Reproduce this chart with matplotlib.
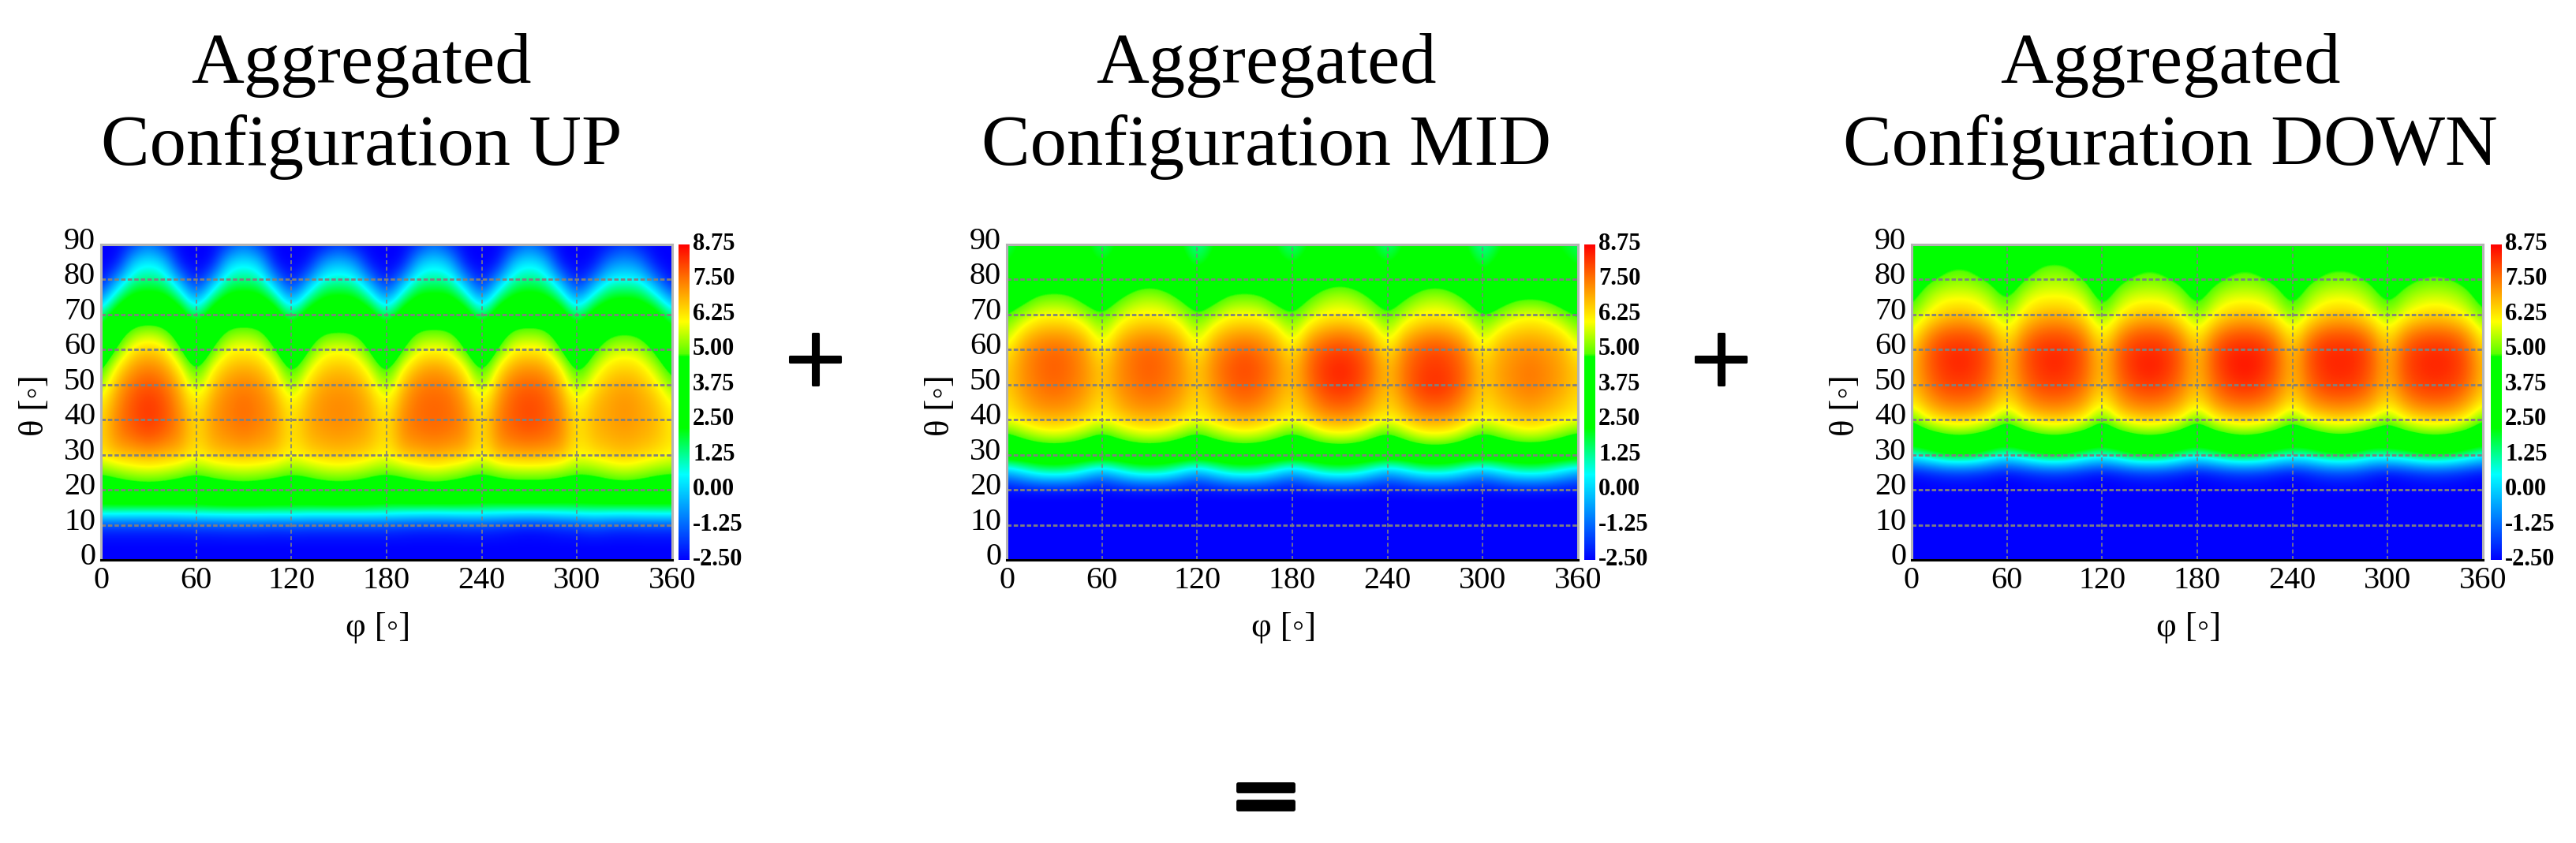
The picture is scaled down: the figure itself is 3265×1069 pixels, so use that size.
import numpy as np
import matplotlib
matplotlib.use("Agg")
import matplotlib.pyplot as plt
import matplotlib.patheffects as pe
from matplotlib.colors import LinearSegmentedColormap
from matplotlib.transforms import ScaledTranslation

W, H = 3265, 1069

titles = ["Configuration UP", "Configuration MID", "Configuration DOWN"]
x_ticks = [0, 60, 120, 180, 240, 300, 360]
y_ticks = [0, 10, 20, 30, 40, 50, 60, 70, 80, 90]
cbar_ticks = [8.75, 7.5, 6.25, 5.0, 3.75, 2.5, 1.25, 0.0, -1.25, -2.5]
cbar_labels = ["8.75", "7.50", "6.25", "5.00", "3.75", "2.50", "1.25", "0.00", "-1.25", "-2.50"]

# one column per phi = 0, 10, ... 360, rows are theta = 0, 5, ... 90
up_cols = [
    [-2.5,-2.5,-1.8,2.0,3.7,4.9,6.2,6.4,6.3,6.1,5.2,4.4,3.2,2.6,1.1,-1.0,-2.5,-2.5,-2.5],
    [-2.5,-2.5,-1.8,2.0,3.9,5.2,6.7,7.3,7.4,7.2,6.9,6.2,4.9,4.0,3.2,1.3,-0.6,-2.5,-2.5],
    [-2.5,-2.5,-1.8,1.9,4.1,5.5,6.8,7.6,7.9,7.9,7.6,7.1,6.3,5.1,3.9,2.6,1.2,0.0,-1.9],
    [-2.5,-2.5,-1.8,1.9,4.2,5.6,7.0,7.9,8.2,8.2,7.9,7.4,6.6,5.5,3.9,2.6,1.4,0.5,-1.0],
    [-2.5,-2.5,-1.8,1.9,4.1,5.5,6.8,7.6,7.9,7.9,7.6,7.1,6.3,5.1,3.9,2.6,1.2,0.0,-1.9],
    [-2.5,-2.5,-1.8,2.0,3.9,5.2,6.7,7.2,7.3,7.1,6.8,6.1,4.9,4.0,3.2,1.3,-0.6,-2.5,-2.5],
    [-2.5,-2.5,-1.7,2.0,3.7,4.9,6.1,6.3,6.2,6.0,5.1,4.3,3.2,2.6,1.1,-1.0,-2.5,-2.5,-2.5],
    [-2.5,-2.5,-1.7,2.1,3.9,5.2,6.6,7.0,7.1,7.0,6.6,6.0,4.8,3.9,3.2,1.3,-0.7,-2.5,-2.5],
    [-2.5,-2.5,-1.6,2.1,4.1,5.4,6.7,7.2,7.4,7.4,7.2,6.7,6.0,5.0,3.9,2.6,1.2,0.0,-1.9],
    [-2.5,-2.5,-1.6,2.1,4.2,5.5,6.8,7.4,7.6,7.6,7.4,6.9,6.1,5.2,3.9,2.6,1.4,0.4,-1.1],
    [-2.5,-2.5,-1.6,2.1,4.1,5.4,6.7,7.2,7.4,7.4,7.2,6.7,6.0,5.0,3.9,2.6,1.2,0.0,-1.9],
    [-2.5,-2.5,-1.7,2.1,3.9,5.2,6.6,7.0,7.1,7.0,6.6,6.0,4.8,3.9,3.2,1.3,-0.7,-2.5,-2.5],
    [-2.5,-2.5,-1.6,2.1,3.8,4.9,6.0,6.2,6.1,5.9,5.0,4.2,3.1,2.6,1.1,-1.0,-2.5,-2.5,-2.5],
    [-2.5,-2.5,-1.7,2.0,3.9,5.1,6.4,6.8,6.9,6.8,6.4,5.7,4.6,3.8,3.0,1.0,-0.9,-2.5,-2.5],
    [-2.5,-2.5,-1.7,2.0,4.1,5.4,6.6,7.0,7.2,7.2,7.0,6.5,5.8,4.7,3.5,2.3,0.8,-0.7,-2.4],
    [-2.5,-2.5,-1.7,2.0,4.2,5.5,6.7,7.1,7.3,7.3,7.1,6.7,5.9,4.8,3.6,2.4,1.0,-0.2,-1.8],
    [-2.5,-2.5,-1.7,2.0,4.1,5.4,6.6,7.0,7.2,7.2,7.0,6.5,5.8,4.7,3.5,2.3,0.8,-0.7,-2.4],
    [-2.5,-2.5,-1.7,2.0,3.9,5.1,6.4,6.8,6.9,6.8,6.4,5.7,4.6,3.8,3.0,1.0,-0.9,-2.5,-2.5],
    [-2.5,-2.5,-1.7,1.9,3.7,4.9,6.0,6.2,6.1,5.9,5.0,4.2,3.1,2.6,1.1,-1.0,-2.5,-2.5,-2.5],
    [-2.5,-2.5,-1.8,1.8,3.9,5.1,6.7,7.2,7.3,7.1,6.7,6.0,4.7,3.9,3.1,1.2,-0.7,-2.5,-2.5],
    [-2.5,-2.5,-1.9,1.8,4.1,5.4,6.8,7.4,7.6,7.6,7.4,6.8,5.9,4.9,3.7,2.5,1.1,-0.2,-2.0],
    [-2.5,-2.5,-1.9,1.7,4.2,5.6,7.0,7.5,7.7,7.7,7.5,7.1,6.0,5.0,3.8,2.5,1.2,0.3,-1.2],
    [-2.5,-2.5,-1.9,1.8,4.1,5.4,6.8,7.4,7.6,7.6,7.4,6.8,5.9,4.9,3.7,2.5,1.1,-0.2,-2.0],
    [-2.5,-2.5,-1.8,1.8,3.9,5.1,6.7,7.2,7.3,7.1,6.7,6.0,4.7,3.9,3.1,1.2,-0.7,-2.5,-2.5],
    [-2.5,-2.5,-1.8,1.8,3.7,4.8,6.0,6.2,6.1,5.9,5.0,4.2,3.1,2.6,1.1,-1.0,-2.5,-2.5,-2.5],
    [-2.5,-2.5,-1.9,1.7,3.8,5.2,6.8,7.3,7.4,7.2,6.8,6.1,4.8,3.9,3.2,1.3,-0.6,-2.5,-2.5],
    [-2.5,-2.5,-2.1,1.7,4.0,5.4,6.9,7.6,7.8,7.8,7.6,7.0,6.1,5.0,3.8,2.5,1.1,-0.1,-1.9],
    [-2.5,-2.5,-2.2,1.7,4.0,5.4,7.0,7.7,8.0,8.0,7.7,7.2,6.2,5.1,3.9,2.6,1.4,0.4,-1.1],
    [-2.5,-2.5,-2.1,1.7,4.0,5.4,6.9,7.6,7.8,7.8,7.6,7.0,6.1,5.0,3.8,2.5,1.1,-0.1,-1.9],
    [-2.5,-2.5,-1.9,1.7,3.8,5.2,6.8,7.3,7.4,7.2,6.8,6.1,4.8,3.9,3.2,1.3,-0.6,-2.5,-2.5],
    [-2.5,-2.5,-1.8,1.8,3.7,4.9,6.0,6.2,6.1,5.9,5.0,4.2,3.1,2.6,1.1,-1.0,-2.5,-2.5,-2.5],
    [-2.5,-2.5,-1.5,1.8,3.8,5.0,6.3,6.7,6.8,6.7,6.2,5.5,4.5,3.6,2.9,0.9,-1.1,-2.5,-2.5],
    [-2.5,-2.5,-1.7,1.8,4.0,5.3,6.5,6.9,7.0,7.0,6.8,6.3,5.5,4.5,3.3,2.1,0.5,-1.0,-2.3],
    [-2.5,-2.5,-1.8,1.8,4.1,5.5,6.7,7.0,7.2,7.2,7.0,6.5,5.7,4.7,3.5,2.2,0.6,-0.6,-1.8],
    [-2.5,-2.5,-1.7,1.8,4.0,5.3,6.5,6.9,7.0,7.0,6.8,6.3,5.5,4.5,3.3,2.1,0.5,-1.0,-2.3],
    [-2.5,-2.5,-1.7,1.9,3.8,5.0,6.3,6.7,6.8,6.7,6.2,5.5,4.5,3.6,2.9,0.9,-1.1,-2.5,-2.5],
    [-2.5,-2.5,-1.7,1.9,3.7,4.9,6.0,6.2,6.1,5.9,5.0,4.2,3.1,2.6,1.1,-1.0,-2.5,-2.5,-2.5],
]

mid_cols = [
    [-2.5,-2.5,-2.5,-2.5,-2.5,-0.6,3.2,4.3,6.0,6.3,6.5,6.5,6.1,5.3,4.7,4.0,3.0,2.0,1.6],
    [-2.5,-2.5,-2.5,-2.5,-2.5,0.2,3.3,4.9,6.4,6.9,7.2,7.2,7.1,6.4,5.3,4.3,3.5,2.8,2.4],
    [-2.5,-2.5,-2.5,-2.5,-2.5,1.0,3.4,5.4,6.7,7.3,7.5,7.6,7.5,6.9,5.9,4.9,3.9,3.2,2.8],
    [-2.5,-2.5,-2.5,-2.5,-2.5,1.2,3.5,5.6,6.8,7.4,7.7,7.8,7.7,7.0,6.0,5.0,4.0,3.5,3.0],
    [-2.5,-2.5,-2.5,-2.5,-2.5,1.0,3.4,5.4,6.7,7.3,7.5,7.6,7.5,6.9,5.9,4.9,3.9,3.2,2.8],
    [-2.5,-2.5,-2.5,-2.5,-2.5,0.2,3.3,4.9,6.4,6.9,7.2,7.2,7.1,6.4,5.3,4.3,3.5,2.8,2.4],
    [-2.5,-2.5,-2.5,-2.5,-2.5,-0.6,3.2,4.3,6.0,6.3,6.5,6.5,6.0,5.3,4.7,4.0,3.0,1.9,1.4],
    [-2.5,-2.5,-2.5,-2.5,-2.5,0.2,3.3,4.9,6.4,6.9,7.2,7.2,7.1,6.4,5.5,4.6,3.5,2.8,2.3],
    [-2.5,-2.5,-2.5,-2.5,-2.5,1.0,3.4,5.4,6.7,7.3,7.5,7.6,7.5,6.9,6.0,5.2,4.1,3.2,2.8],
    [-2.5,-2.5,-2.5,-2.5,-2.5,1.2,3.5,5.6,6.8,7.4,7.7,7.8,7.7,7.0,6.1,5.4,4.3,3.5,3.0],
    [-2.5,-2.5,-2.5,-2.5,-2.5,1.0,3.4,5.4,6.7,7.3,7.5,7.6,7.5,6.9,6.0,5.2,4.1,3.2,2.8],
    [-2.5,-2.5,-2.5,-2.5,-2.5,0.2,3.3,4.9,6.4,6.9,7.2,7.2,7.1,6.4,5.5,4.6,3.5,2.8,2.3],
    [-2.5,-2.5,-2.5,-2.5,-2.5,-0.6,3.2,4.3,6.0,6.3,6.5,6.5,6.0,5.3,4.7,4.0,2.6,1.6,1.0],
    [-2.5,-2.5,-2.5,-2.5,-2.5,0.2,3.3,4.9,6.4,6.9,7.2,7.3,7.1,6.4,5.3,4.3,3.5,2.6,2.1],
    [-2.5,-2.5,-2.5,-2.5,-2.5,1.0,3.4,5.4,6.7,7.4,7.7,7.8,7.5,6.9,5.9,4.9,3.9,3.2,2.8],
    [-2.5,-2.5,-2.5,-2.5,-2.5,1.2,3.5,5.6,6.9,7.6,7.9,8.0,7.8,7.0,6.0,5.0,4.0,3.4,3.0],
    [-2.5,-2.5,-2.5,-2.5,-2.5,1.0,3.4,5.4,6.7,7.4,7.7,7.8,7.5,6.9,5.9,4.9,3.9,3.2,2.8],
    [-2.5,-2.5,-2.5,-2.5,-2.5,0.2,3.3,4.9,6.4,6.9,7.2,7.3,7.1,6.4,5.3,4.3,3.5,2.6,2.1],
    [-2.5,-2.5,-2.5,-2.5,-2.5,-0.6,3.2,4.3,6.0,6.4,6.6,6.6,6.1,5.3,4.7,4.0,2.9,1.9,1.2],
    [-2.5,-2.5,-2.5,-2.5,-2.5,0.2,3.3,4.9,6.5,7.1,7.5,7.6,7.4,6.6,5.5,4.7,3.6,2.7,2.2],
    [-2.5,-2.5,-2.5,-2.5,-2.5,1.0,3.4,5.5,7.0,7.7,8.1,8.2,7.9,7.1,6.0,5.3,4.2,3.2,2.8],
    [-2.5,-2.5,-2.5,-2.5,-2.5,1.2,3.5,5.7,7.1,7.9,8.3,8.4,8.1,7.3,6.1,5.5,4.4,3.5,3.0],
    [-2.5,-2.5,-2.5,-2.5,-2.5,1.0,3.4,5.5,7.0,7.7,8.1,8.2,7.9,7.1,6.0,5.3,4.2,3.2,2.8],
    [-2.5,-2.5,-2.5,-2.5,-2.5,0.2,3.3,4.9,6.5,7.1,7.5,7.6,7.4,6.6,5.5,4.7,3.6,2.7,2.2],
    [-2.5,-2.5,-2.5,-2.5,-2.5,-0.6,3.2,4.3,6.0,6.4,6.6,6.6,6.1,5.3,4.7,4.0,2.9,1.9,1.2],
    [-2.5,-2.5,-2.5,-2.5,-2.5,0.0,3.2,5.0,6.5,7.1,7.5,7.5,7.3,6.5,5.5,4.6,3.5,2.7,2.2],
    [-2.5,-2.5,-2.5,-2.5,-2.5,0.7,3.5,5.6,7.0,7.7,8.1,8.0,7.8,7.0,6.0,5.2,4.1,3.2,2.8],
    [-2.5,-2.5,-2.5,-2.5,-2.5,0.9,3.6,5.8,7.1,7.9,8.3,8.2,8.0,7.2,6.1,5.4,4.3,3.5,3.0],
    [-2.5,-2.5,-2.5,-2.5,-2.5,0.7,3.5,5.6,7.0,7.7,8.1,8.0,7.8,7.0,6.0,5.2,4.1,3.2,2.8],
    [-2.5,-2.5,-2.5,-2.5,-2.5,0.0,3.2,5.0,6.5,7.1,7.5,7.5,7.3,6.5,5.5,4.6,3.5,2.7,2.2],
    [-2.5,-2.5,-2.5,-2.5,-2.5,-0.6,3.2,4.3,6.0,6.3,6.5,6.5,6.0,5.3,4.6,3.8,2.4,1.6,0.9],
    [-2.5,-2.5,-2.5,-2.5,-2.5,0.1,3.2,4.8,6.3,6.7,7.0,7.0,6.9,6.2,5.1,4.1,3.3,2.5,2.0],
    [-2.5,-2.5,-2.5,-2.5,-2.5,0.8,3.3,5.3,6.5,7.0,7.3,7.3,7.1,6.6,5.7,4.5,3.7,3.0,2.5],
    [-2.5,-2.5,-2.5,-2.5,-2.5,1.0,3.4,5.5,6.7,7.2,7.5,7.5,7.3,6.7,5.9,4.6,3.8,3.2,2.8],
    [-2.5,-2.5,-2.5,-2.5,-2.5,0.8,3.3,5.3,6.5,7.0,7.3,7.3,7.1,6.6,5.7,4.5,3.7,3.0,2.5],
    [-2.5,-2.5,-2.5,-2.5,-2.5,0.1,3.2,4.8,6.3,6.7,7.0,7.0,6.9,6.2,5.1,4.1,3.3,2.5,2.0],
    [-2.5,-2.5,-2.5,-2.5,-2.5,-0.6,3.2,4.3,6.0,6.3,6.5,6.5,6.0,5.3,4.6,3.9,2.8,1.9,1.6],
]

down_cols = [
    [-2.5,-2.5,-2.5,-2.5,-2.5,-2.5,0.8,3.4,4.8,6.2,6.6,6.7,6.5,5.9,5.1,4.4,3.8,3.3,2.8],
    [-2.5,-2.5,-2.5,-2.5,-2.5,-2.3,1.4,3.9,6.0,7.0,7.5,7.7,7.7,7.1,6.0,5.4,4.6,3.5,3.0],
    [-2.5,-2.5,-2.5,-2.5,-2.5,-2.1,2.2,4.4,6.4,7.5,8.0,8.2,8.2,7.7,6.5,5.9,5.0,4.4,3.5],
    [-2.5,-2.5,-2.5,-2.5,-2.5,-2.0,2.4,4.6,6.6,7.6,8.1,8.4,8.3,7.8,6.8,5.9,5.2,4.6,3.5],
    [-2.5,-2.5,-2.5,-2.5,-2.5,-2.1,2.2,4.4,6.4,7.5,8.0,8.2,8.2,7.7,6.5,5.9,5.0,4.4,3.5],
    [-2.5,-2.5,-2.5,-2.5,-2.5,-2.3,1.4,3.9,6.0,7.0,7.5,7.7,7.7,7.1,6.0,5.4,4.6,3.5,3.0],
    [-2.5,-2.5,-2.5,-2.5,-2.5,-2.5,0.8,3.4,4.8,6.2,6.6,6.7,6.5,5.9,5.2,4.5,3.8,3.3,2.8],
    [-2.5,-2.5,-2.5,-2.5,-2.5,-2.3,1.4,3.9,6.0,7.0,7.5,7.7,7.7,7.1,6.2,5.6,4.7,3.7,3.0],
    [-2.5,-2.5,-2.5,-2.5,-2.5,-2.1,2.1,4.4,6.4,7.5,8.0,8.2,8.2,7.7,6.7,6.0,5.3,4.6,3.5],
    [-2.5,-2.5,-2.5,-2.5,-2.5,-2.0,2.4,4.6,6.6,7.6,8.1,8.4,8.3,7.8,6.9,6.0,5.4,4.8,3.5],
    [-2.5,-2.5,-2.5,-2.5,-2.5,-2.1,2.1,4.4,6.4,7.5,8.0,8.2,8.2,7.7,6.7,6.0,5.3,4.6,3.5],
    [-2.5,-2.5,-2.5,-2.5,-2.5,-2.3,1.4,3.9,6.0,7.0,7.5,7.7,7.7,7.1,6.2,5.6,4.7,3.7,3.0],
    [-2.5,-2.5,-2.5,-2.5,-2.5,-2.5,1.0,3.4,4.7,6.0,6.5,6.6,6.4,5.8,4.9,4.2,3.6,3.2,2.8],
    [-2.5,-2.5,-2.5,-2.5,-2.5,-2.3,1.5,3.9,6.0,7.0,7.5,7.7,7.7,7.0,6.0,5.3,4.5,3.5,3.0],
    [-2.5,-2.5,-2.5,-2.5,-2.5,-2.1,2.3,4.4,6.4,7.5,8.0,8.3,8.2,7.7,6.5,5.8,4.9,4.3,3.5],
    [-2.5,-2.5,-2.5,-2.5,-2.5,-2.0,2.4,4.6,6.6,7.6,8.2,8.5,8.3,7.8,6.7,5.8,5.1,4.5,3.5],
    [-2.5,-2.5,-2.5,-2.5,-2.5,-2.1,2.3,4.4,6.4,7.5,8.0,8.3,8.2,7.7,6.5,5.8,4.9,4.3,3.5],
    [-2.5,-2.5,-2.5,-2.5,-2.5,-2.3,1.5,3.9,6.0,7.0,7.5,7.7,7.7,7.0,6.0,5.3,4.5,3.5,3.0],
    [-2.5,-2.5,-2.5,-2.5,-2.5,-2.5,1.0,3.4,4.8,6.2,6.6,6.7,6.5,5.9,5.0,4.3,3.7,3.3,2.8],
    [-2.5,-2.5,-2.5,-2.5,-2.5,-2.3,1.5,3.9,6.0,7.1,7.6,7.8,7.8,7.1,6.0,5.3,4.5,3.5,3.0],
    [-2.5,-2.5,-2.5,-2.5,-2.5,-2.1,2.2,4.4,6.4,7.6,8.1,8.4,8.3,7.7,6.5,5.8,4.9,4.3,3.5],
    [-2.5,-2.5,-2.5,-2.5,-2.5,-2.0,2.4,4.6,6.6,7.7,8.3,8.6,8.4,7.8,6.7,5.8,5.1,4.5,3.5],
    [-2.5,-2.5,-2.5,-2.5,-2.5,-2.1,2.2,4.4,6.4,7.6,8.1,8.4,8.3,7.7,6.5,5.8,4.9,4.3,3.5],
    [-2.5,-2.5,-2.5,-2.5,-2.5,-2.3,1.5,3.9,6.0,7.1,7.6,7.8,7.8,7.1,6.0,5.3,4.5,3.5,3.0],
    [-2.5,-2.5,-2.5,-2.5,-2.5,-2.5,1.1,3.5,4.9,6.2,6.6,6.7,6.5,5.9,5.0,4.3,3.7,3.3,2.8],
    [-2.5,-2.5,-2.5,-2.5,-2.5,-2.2,1.2,3.7,6.0,7.1,7.6,7.8,7.8,7.1,6.0,5.3,4.6,3.5,3.0],
    [-2.5,-2.5,-2.5,-2.5,-2.5,-1.9,1.9,4.3,6.3,7.5,8.1,8.3,8.3,7.7,6.5,5.8,5.0,4.4,3.5],
    [-2.5,-2.5,-2.5,-2.5,-2.5,-1.8,2.1,4.5,6.5,7.6,8.2,8.4,8.3,7.8,6.7,5.9,5.1,4.5,3.5],
    [-2.5,-2.5,-2.5,-2.5,-2.5,-1.9,1.9,4.3,6.3,7.5,8.1,8.3,8.3,7.7,6.5,5.8,5.0,4.4,3.5],
    [-2.5,-2.5,-2.5,-2.5,-2.5,-2.2,1.2,3.7,6.0,7.1,7.6,7.8,7.8,7.1,6.0,5.3,4.6,3.5,3.0],
    [-2.5,-2.5,-2.5,-2.5,-2.5,-2.5,1.3,3.6,5.0,6.3,6.7,6.8,6.6,6.0,5.1,4.4,3.7,3.0,1.6],
    [-2.5,-2.5,-2.5,-2.5,-2.5,-2.3,1.5,3.9,6.0,7.1,7.7,7.9,7.8,7.1,5.9,5.2,4.4,3.4,3.0],
    [-2.5,-2.5,-2.5,-2.5,-2.5,-2.1,2.1,4.4,6.4,7.6,8.1,8.3,8.2,7.6,6.3,5.6,4.8,4.1,3.5],
    [-2.5,-2.5,-2.5,-2.5,-2.5,-2.0,2.3,4.6,6.5,7.7,8.2,8.4,8.3,7.7,6.5,5.7,4.9,4.3,3.5],
    [-2.5,-2.5,-2.5,-2.5,-2.5,-2.1,2.1,4.4,6.4,7.6,8.1,8.3,8.2,7.6,6.3,5.6,4.8,4.1,3.5],
    [-2.5,-2.5,-2.5,-2.5,-2.5,-2.3,1.5,3.9,6.0,7.1,7.7,7.9,7.8,7.1,5.9,5.2,4.4,3.4,3.0],
    [-2.5,-2.5,-2.5,-2.5,-2.5,-2.5,0.8,3.4,4.8,6.2,6.6,6.7,6.5,5.8,4.9,4.2,3.6,3.2,2.8],
]

# colours
stops = [(-2.5, "#0000ff"), (0.55, "#00ffff"), (2.2, "#00ff00"), (4.75, "#00ff00"),
         (4.85, "#58ff00"), (6.0, "#ffff00"), (7.4, "#ff8000"), (8.75, "#ff0000")]
vmin, vmax = -2.5, 8.75
cmap = LinearSegmentedColormap.from_list(
    "bar", [((v - vmin) / (vmax - vmin), c) for v, c in stops], N=1024)

serif = ["Liberation Serif", "DejaVu Serif"]
plt.rcParams["font.family"] = serif


def pixel_axes(fig, x0, y0, x1, y1):
    return fig.add_axes([x0 / W, 1 - y1 / H, (x1 - x0) / W, (y1 - y0) / H])


fig = plt.figure(figsize=(W / 100, H / 100), dpi=100)

panels = [
    (up_cols, 128, 860, 458),
    (mid_cols, 1276, 2008, 1605),
    (down_cols, 2423, 3157, 2751),
]
y_up = ScaledTranslation(0, 8 / 100, fig.dpi_scale_trans)
y_up_small = ScaledTranslation(0, 4 / 100, fig.dpi_scale_trans)

for (cols, left, bar_left, title_x), title in zip(panels, titles):
    ax = pixel_axes(fig, left, 310, left + 724, 710)
    z = np.array(cols).T
    im = ax.imshow(z, origin="lower", extent=[-5, 365, -2.5, 92.5], aspect="auto",
                   cmap=cmap, vmin=vmin, vmax=vmax, interpolation="bicubic", zorder=1)
    ax.set_xlim(0, 360)
    ax.set_ylim(0, 90)
    ax.set_xticks(x_ticks)
    ax.set_yticks(y_ticks)
    ax.tick_params(length=0, labelsize=29, pad=6)
    ax.tick_params(axis="y", pad=5)
    for lab in ax.get_yticklabels():
        lab.set_transform(lab.get_transform() + y_up)

    for x in x_ticks[1:-1]:
        ax.axvline(x, color="#808080", lw=1.2, ls=(0, (3, 2)), zorder=2)
    for y in y_ticks[1:-1]:
        ax.axhline(y, color="#808080", lw=2.0, ls=(0, (2.0, 1.0)), zorder=2)

    for side in ["left", "top", "right"]:
        ax.spines[side].set_color("#b4b4b4")
        ax.spines[side].set_linewidth(2.2)
    ax.spines["bottom"].set_color("black")
    ax.spines["bottom"].set_linewidth(2.2)

    ax.set_xlabel("φ [◦]", fontsize=32)
    ax.xaxis.set_label_coords(0.485, -0.165)
    ax.set_ylabel("θ [◦]", fontsize=32)
    ax.yaxis.set_label_coords(-0.088, 0.49)

    cax = pixel_axes(fig, bar_left, 310, bar_left + 14, 710)
    cb = fig.colorbar(im, cax=cax, ticks=cbar_ticks)
    cb.outline.set_visible(False)
    cb.ax.set_yticklabels(cbar_labels)
    cb.ax.tick_params(length=0, pad=3, labelsize=22)
    for lab in cb.ax.get_yticklabels():
        lab.set_fontweight("bold")
        lab.set_transform(lab.get_transform() + y_up_small)

    fig.text(title_x / W, 1 - 105 / H, "Aggregated", fontsize=66.6, ha="center", va="baseline")
    fig.text(title_x / W, 1 - 209 / H, title, fontsize=66.6, ha="center", va="baseline")

# the operators are heavier than the fonts here, a thin stroke makes up for it
for x in [1033, 2181]:
    fig.text(x / W, 1 - 468 / H, "+", fontsize=100, family="Liberation Serif", ha="center",
             va="center", path_effects=[pe.withStroke(linewidth=2.2, foreground="black")])
fig.text(1604 / W, 1 - 1048 / H, "＝", fontsize=70, family="Noto Sans CJK SC", fontweight="bold",
         ha="center", va="baseline", path_effects=[pe.withStroke(linewidth=3.5, foreground="black")])

fig.savefig("out.png", dpi=100)
